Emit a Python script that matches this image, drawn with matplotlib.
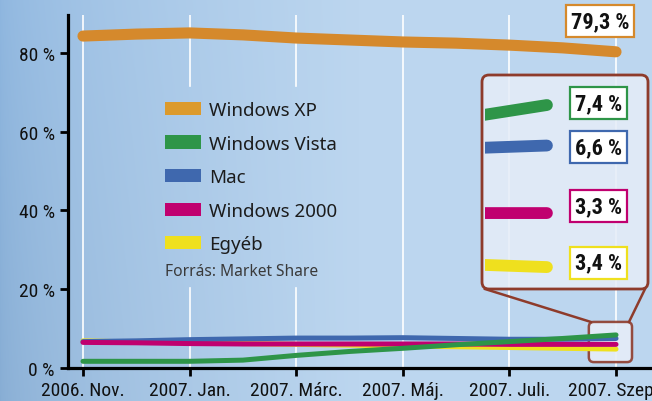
import numpy as np
import matplotlib
matplotlib.use('Agg')
import matplotlib.pyplot as plt
from matplotlib.patches import Patch, FancyBboxPatch
from matplotlib.lines import Line2D
from matplotlib.transforms import IdentityTransform

# data (market share, %), monthly 2006 Nov .. 2007 Sept
months = list(range(11))
tick_pos = [0, 2, 4, 6, 8, 10]
tick_labels = ['2006. Nov.', '2007. Jan.', '2007. Márc.', '2007. Máj.', '2007. Juli.', '2007. Szept.']
y_ticks = [0, 20, 40, 60, 80]
y_labels = ['0 %', '20 %', '40 %', '60 %', '80 %']

xp = [84.3, 84.8, 85.1, 84.6, 83.8, 83.3, 82.8, 82.5, 82.0, 81.3, 80.3]
vista = [1.7, 1.7, 1.7, 2.0, 3.2, 4.2, 5.0, 5.9, 6.7, 7.5, 8.4]
mac = [6.7, 6.9, 7.2, 7.4, 7.6, 7.6, 7.7, 7.5, 7.3, 7.3, 7.5]
w2000 = [6.5, 6.4, 6.2, 6.1, 6.1, 6.1, 6.1, 6.1, 6.0, 6.0, 6.0]
other = [6.9, 6.6, 6.4, 6.2, 6.0, 5.8, 5.6, 5.4, 5.2, 5.0, 4.8]

names = ['Windows XP', 'Windows Vista', 'Mac', 'Windows 2000', 'Egyéb']
last_labels = ['79,3 %', '7,4 %', '6,6 %', '3,3 %', '3,4 %']
colors = ['#d5892c', '#2e9548', '#3f68ae', '#c0006f', '#efe01e']
legend_colors = ['#dc9a2c', '#2e9548', '#3f68ae', '#c0006f', '#efe01e']

narrow = ['Roboto Condensed', 'Liberation Sans Narrow', 'Roboto', 'DejaVu Sans']
W, H = 652, 402

fig = plt.figure(figsize=(W / 100, H / 100), dpi=100)

# background gradient
bg = fig.add_axes([0, 0, 1, 1], zorder=-10)
xx = np.linspace(0, 1, W)[None, :]
yy = np.linspace(0, 1, H)[:, None]
t = np.clip(xx / 0.55, 0, 1) ** 0.6
c0 = np.array([0x8e, 0xb6, 0xdf]) / 255
c1 = np.array([0xbc, 0xd6, 0xef]) / 255
img = c0[None, None, :] * (1 - t[..., None]) + c1[None, None, :] * t[..., None]
img = img * (1 - 0.05 * yy[..., None] * (1 - t[..., None]))
img = np.broadcast_to(img, (H, W, 3))
bg.imshow(img, aspect='auto', extent=[0, 1, 0, 1])
bg.axis('off')

ax = fig.add_axes([68 / W, 33 / H, 584 / W, 353 / H])
ax.patch.set_alpha(0)
ax.set_xlim(-0.281, 10.675)
ax.set_ylim(0, 89.65)

# white vertical grid lines, broken behind the legend
for p in tick_pos:
    if p in (2, 4):
        ax.axvline(p, ymin=0, ymax=0.226, color='white', lw=1.2, zorder=1)
        ax.axvline(p, ymin=0.799, ymax=1, color='white', lw=1.2, zorder=1)
    else:
        ax.axvline(p, color='white', lw=1.2, zorder=1)

ax.plot(months, xp, color=colors[0], lw=8, solid_capstyle='round', zorder=5)
ax.plot(months, other, color=colors[4], lw=3.6, solid_capstyle='round', zorder=5)
ax.plot(months, mac, color=colors[2], lw=3.6, solid_capstyle='round', zorder=5)
ax.plot(months, w2000, color=colors[3], lw=3.6, solid_capstyle='round', zorder=5)
ax.plot(months, vista, color=colors[1], lw=3.6, solid_capstyle='round', zorder=5)

for s in ['top', 'right']:
    ax.spines[s].set_visible(False)
for s in ['left', 'bottom']:
    ax.spines[s].set_linewidth(2.3)
    ax.spines[s].set_color('black')
ax.set_xticks(tick_pos)
ax.set_xticklabels(tick_labels, family=narrow, fontsize=14, color='#111111')
ax.set_yticks(y_ticks)
ax.set_yticklabels(y_labels, family=narrow, fontsize=14, color='#111111')
ax.tick_params(axis='both', direction='out', length=6, width=2, color='black')
ax.tick_params(axis='y', pad=3.6)
ax.tick_params(axis='x', pad=3.5)

# legend
handles = [Patch(facecolor=c, edgecolor='none') for c in legend_colors]
leg = ax.legend(handles, names, loc='upper left', bbox_to_anchor=(165 / W, 1 - 102 / H),
                bbox_transform=fig.transFigure, frameon=False, borderpad=0, borderaxespad=0,
                handlelength=1.9, handleheight=0.7, handletextpad=0.45, labelspacing=0.83,
                prop={'family': 'Noto Sans', 'size': 13.5})
for txt in leg.get_texts():
    txt.set_color('#1c1c1c')
fig.text(165 / W, 1 - 272 / H, 'Forrás: Market Share', family='Noto Sans', fontsize=11.2,
         weight='bold', color='#3a3a3a', va='center', ha='left')

# XP end value
fig.text(600 / W, 1 - 22 / H, last_labels[0], family=narrow, fontsize=16, weight='bold',
         ha='center', va='center', color='#111111',
         bbox=dict(boxstyle='square,pad=0.22', fc='white', ec=colors[0], lw=1.6))

# small box around the last points (display pixels)
ax.figure.canvas.draw()
(bx0, by0) = ax.transData.transform((9.49, 1.5))
(bx1, by1) = ax.transData.transform((10.30, 11.7))
brown = '#8e3b2b'
small_fill = FancyBboxPatch((bx0, by0), bx1 - bx0, by1 - by0, boxstyle='round,pad=0,rounding_size=5',
                            transform=IdentityTransform(), fc='#e6edf8', ec=brown, lw=1.8,
                            alpha=0.9, zorder=2)
ax.add_artist(small_fill)
small_fill.set_clip_on(False)

# inset (magnified end of the small lines)
ix0, ix1, iy0, iy1 = 482, 648, H - 290, H - 76
inset_bg = FancyBboxPatch((ix0, iy0), ix1 - ix0, iy1 - iy0, boxstyle='round,pad=0,rounding_size=7',
                          transform=IdentityTransform(), fc='#e6edf8', ec='none', alpha=0.85, zorder=3)
fig.add_artist(inset_bg)
axin = fig.add_axes([(ix0 + 3) / W, (iy0 + 3) / H, (ix1 - ix0 - 6) / W, (iy1 - iy0 - 6) / H], zorder=4)
axin.patch.set_alpha(0)
axin.set_xlim(9.76, 10.38)
axin.set_ylim(4.38, 9.0)
axin.plot(months, vista, color=colors[1], lw=8.5, solid_capstyle='round')
axin.plot(months, mac, color=colors[2], lw=8.5, solid_capstyle='round')
axin.plot(months, w2000, color=colors[3], lw=8.5, solid_capstyle='round')
axin.plot(months, other, color=colors[4], lw=8.5, solid_capstyle='round')
axin.axis('off')
inset_edge = FancyBboxPatch((ix0, iy0), ix1 - ix0, iy1 - iy0, boxstyle='round,pad=0,rounding_size=7',
                            transform=IdentityTransform(), fc='none', ec=brown, lw=2, zorder=5)
fig.add_artist(inset_edge)

# connector lines
fig.add_artist(Line2D([ix0 + 3, bx0 + 2], [iy0, by1], transform=IdentityTransform(),
                      color=brown, lw=1.8, zorder=5))
fig.add_artist(Line2D([ix1 - 3, bx1 - 3], [iy0, by1], transform=IdentityTransform(),
                      color=brown, lw=1.8, zorder=5))

# inset value labels
label_y = [0.878, 0.668, 0.383, 0.112]
for lab, c, yv in zip(last_labels[1:], colors[1:], label_y):
    axin.text(0.71, yv, lab, transform=axin.transAxes, family=narrow, fontsize=16,
              weight='bold', ha='center', va='center', zorder=10, color='#111111',
              bbox=dict(boxstyle='square,pad=0.22', fc='white', ec=c, lw=1.6))

fig.savefig('out.png', dpi=100)
